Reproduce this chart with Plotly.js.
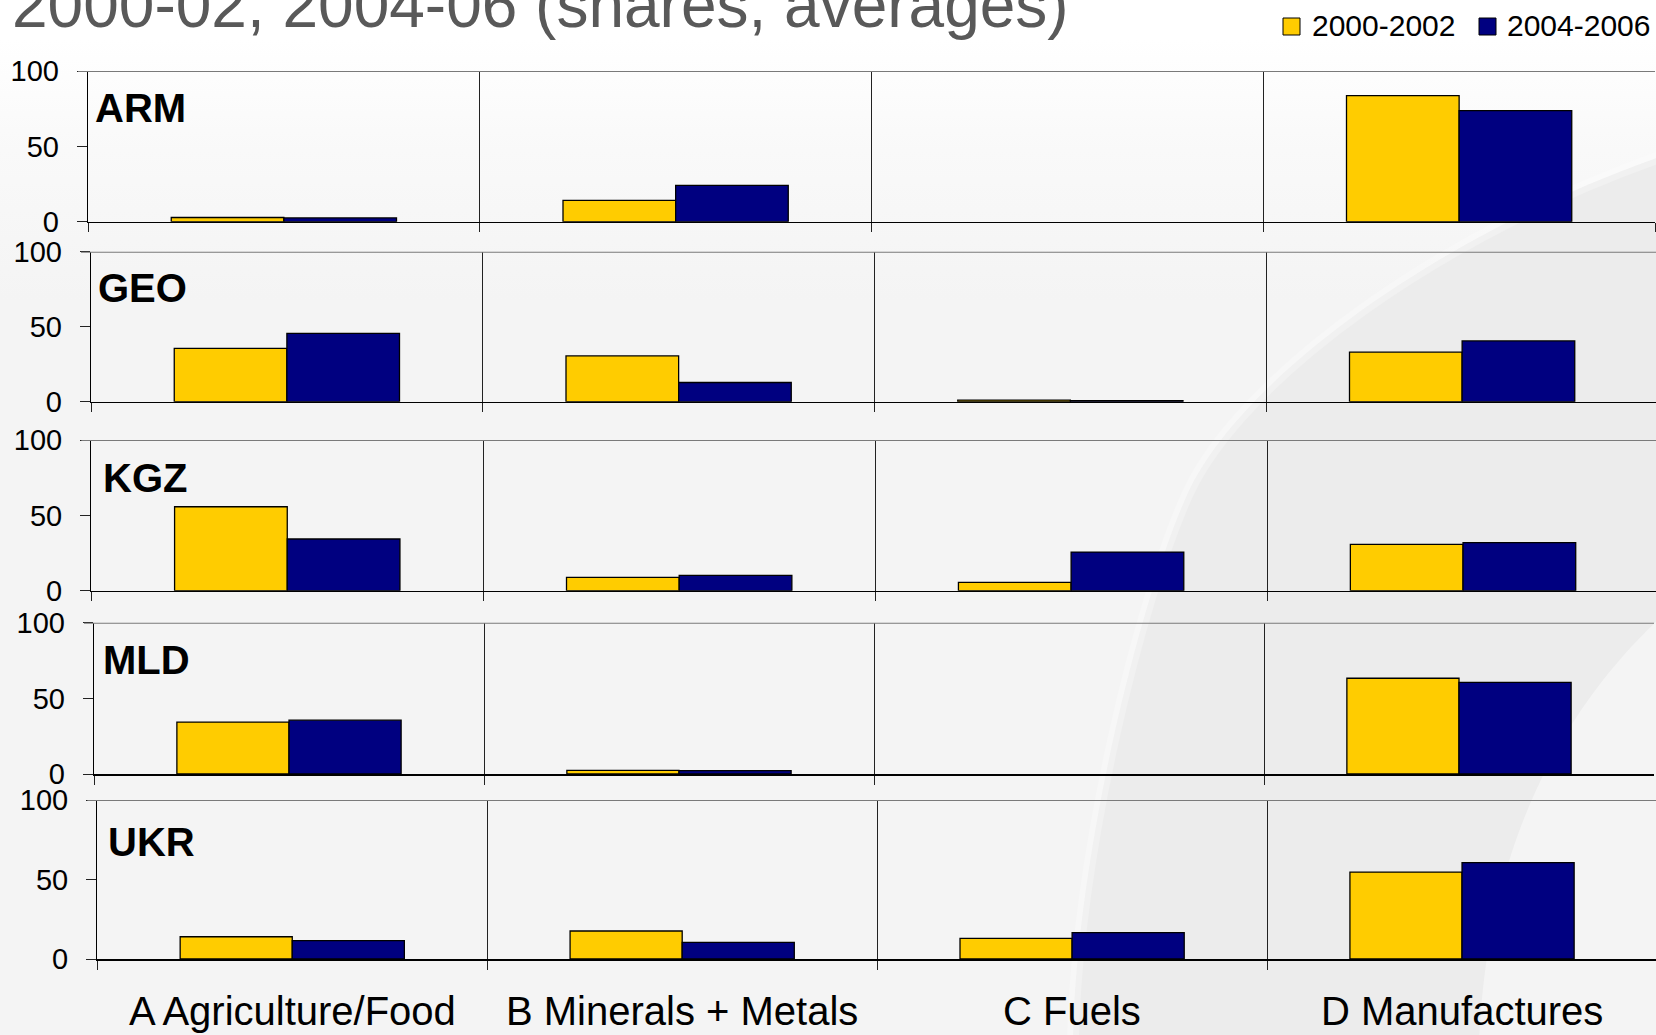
<!DOCTYPE html>
<html>
<head>
<meta charset="utf-8">
<script src="https://cdn.plot.ly/plotly-3.0.1.min.js"></script>
<style>
  html, body { margin:0; padding:0; overflow:hidden; }
  body { background: linear-gradient(180deg, #ffffff 0px, #ffffff 40px, #f9f9f9 150px, #f4f4f4 300px, #f4f4f4 100%); }
  #chart { width:1670px; height:1035px; }
</style>
</head>
<body>
<div id="chart"></div>
<script>
// ---------- data ----------
const chartTitle = '2000-02, 2004-06 (shares, averages)';
const categories = ['A Agriculture/Food', 'B Minerals + Metals', 'C Fuels', 'D Manufactures'];
const countries = ['ARM', 'GEO', 'KGZ', 'MLD', 'UKR'];
const seriesNames = ['2000-2002', '2004-2006'];
const yTickVals = [0, 50, 100];

const arm_2000_2002 = [2.8, 14.2, 0, 83.7];
const arm_2004_2006 = [2.5, 24.1, 0, 73.7];
const geo_2000_2002 = [35.5, 30.5, 1.1, 33.0];
const geo_2004_2006 = [45.5, 12.8, 0.7, 40.5];
const kgz_2000_2002 = [55.7, 8.8, 5.5, 30.7];
const kgz_2004_2006 = [34.3, 10.2, 25.6, 31.9];
const mld_2000_2002 = [34.3, 2.4, 0, 63.3];
const mld_2004_2006 = [35.6, 2.2, 0, 60.5];
const ukr_2000_2002 = [14.0, 17.6, 13.0, 54.7];
const ukr_2004_2006 = [11.5, 10.5, 16.6, 60.6];

const seriesA = [arm_2000_2002, geo_2000_2002, kgz_2000_2002, mld_2000_2002, ukr_2000_2002];
const seriesB = [arm_2004_2006, geo_2004_2006, kgz_2004_2006, mld_2004_2006, ukr_2004_2006];

// ---------- styling / layout (pixels) ----------
const W = 1670, H = 1035;
const colors = ['#FFCC00', '#000080'];
const FONT = 'Liberation Sans, Arial, sans-serif';
const panels = [
  {L: 88,   R: 1655, T: 71,    B: 221.7, lx: 93,  ly: 108},
  {L: 91,   R: 1658, T: 251.7, B: 401.7, lx: 96,  ly: 288},
  {L: 91.3, R: 1659, T: 440,   B: 590.7, lx: 101, ly: 478},
  {L: 94,   R: 1654, T: 622.7, B: 774,   lx: 101, ly: 660},
  {L: 97.3, R: 1657, T: 800,   B: 959,   lx: 106, ly: 842}
];
const px = x => x / W;
const py = y => 1 - y / H;
const P = (x, y) => px(x).toFixed(5) + ',' + py(y).toFixed(5);

const traces = [];
const layout = {
  width: W, height: H,
  margin: {l: 0, r: 0, t: 0, b: 0},
  paper_bgcolor: 'rgba(0,0,0,0)',
  plot_bgcolor: 'rgba(0,0,0,0)',
  font: {family: FONT, color: '#000'},
  showlegend: false,
  barmode: 'group',
  bargap: 0.425,
  bargroupgap: 0,
  title: {
    text: chartTitle,
    font: {family: FONT, size: 64, color: '#595959'},
    xref: 'container', yref: 'container',
    x: px(12), xanchor: 'left',
    y: py(4.6), yanchor: 'middle'
  },
  shapes: [],
  annotations: []
};

// background swoosh (smooth crescent band)
const outerPath = 'M' + P(1690, 145) + ' L' + P(1680, 150) +
  ' C' + P(1440, 230) + ' ' + P(1240, 380) + ' ' + P(1188, 493) +
  ' C' + P(1141, 595) + ' ' + P(1075, 860) + ' ' + P(1073, 1045);
const innerPath = ' L' + P(1479, 1045) +
  ' C' + P(1485, 880) + ' ' + P(1540, 720) + ' ' + P(1680, 600) +
  ' L' + P(1690, 590) + ' Z';
layout.shapes.push({
  type: 'path', xref: 'paper', yref: 'paper', layer: 'below',
  path: outerPath + innerPath,
  fillcolor: '#ececec', line: {width: 0}
});
layout.shapes.push({
  type: 'path', xref: 'paper', yref: 'paper', layer: 'below',
  path: outerPath,
  line: {color: 'rgba(255,255,255,0.25)', width: 12}
});

panels.forEach((p, i) => {
  const k = i === 0 ? '' : String(i + 1);
  const xa = 'xaxis' + k, ya = 'yaxis' + k;
  const xid = 'x' + k, yid = 'y' + k;
  [seriesA[i], seriesB[i]].forEach((vals, s) => {
    traces.push({
      type: 'bar', x: categories, y: vals, name: seriesNames[s],
      xaxis: xid, yaxis: yid,
      marker: {color: colors[s], line: {color: '#000', width: vals.map(v => v > 0 ? 1.3 : 0)}},
      hoverinfo: 'skip'
    });
  });
  layout[xa] = {
    domain: [px(p.L), px(p.R)], anchor: yid,
    type: 'category', categoryorder: 'array', categoryarray: categories,
    range: [-0.5, 3.5], fixedrange: true,
    tickson: 'boundaries', ticks: 'outside', ticklen: 9, tickcolor: '#222', tickwidth: 1,
    showgrid: true, gridcolor: '#222', gridwidth: 1,
    showticklabels: false,
    showline: true, linecolor: '#000', linewidth: 1.5,
    zeroline: false
  };
  layout[ya] = {
    domain: [py(p.B), py(p.T)], anchor: xid,
    range: [0, 100], fixedrange: true,
    tickvals: yTickVals, ticktext: yTickVals.map(String),
    ticks: 'outside', ticklen: 10, tickcolor: '#222', tickwidth: 1,
    ticklabelstandoff: 12,
    tickfont: {family: FONT, size: 29, color: '#000'},
    showgrid: false, zeroline: false,
    showline: true, linecolor: '#000', linewidth: 1.3
  };
  // top border (gray)
  layout.shapes.push({
    type: 'line', xref: 'paper', yref: yid, layer: 'above',
    x0: px(p.L - 10), x1: px(p.R), y0: 100, y1: 100,
    line: {color: '#7a7a7a', width: 2}
  });
  // panel label
  layout.annotations.push({
    text: '<b>' + countries[i] + '</b>', xref: 'paper', yref: 'paper',
    x: px(p.lx), y: py(p.ly), xanchor: 'left', yanchor: 'middle',
    showarrow: false, font: {family: FONT, size: 40, color: '#000'}
  });
});

// category labels below bottom panel
const bp = panels[panels.length - 1];
const cw = (bp.R - bp.L) / categories.length;
categories.forEach((c, j) => {
  layout.annotations.push({
    text: c, xref: 'paper', yref: 'paper',
    x: px(bp.L + cw * (j + 0.5)), y: py(1011), xanchor: 'center', yanchor: 'middle',
    showarrow: false, font: {family: FONT, size: 40, color: '#000'}
  });
});

// legend
const legendItems = [{sx: 1283, tx: 1310}, {sx: 1479, tx: 1505}];
seriesNames.forEach((n, s) => {
  const it = legendItems[s];
  layout.shapes.push({
    type: 'rect', xref: 'paper', yref: 'paper', layer: 'above',
    x0: px(it.sx), x1: px(it.sx + 17), y0: py(35), y1: py(18),
    fillcolor: colors[s], line: {color: '#000', width: 1}
  });
  layout.annotations.push({
    text: n, xref: 'paper', yref: 'paper',
    x: px(it.tx), y: py(26), xanchor: 'left', yanchor: 'middle',
    showarrow: false, font: {family: FONT, size: 30, color: '#000'}
  });
});

Plotly.newPlot('chart', traces, layout, {displayModeBar: false, staticPlot: true});
</script>
</body>
</html>
